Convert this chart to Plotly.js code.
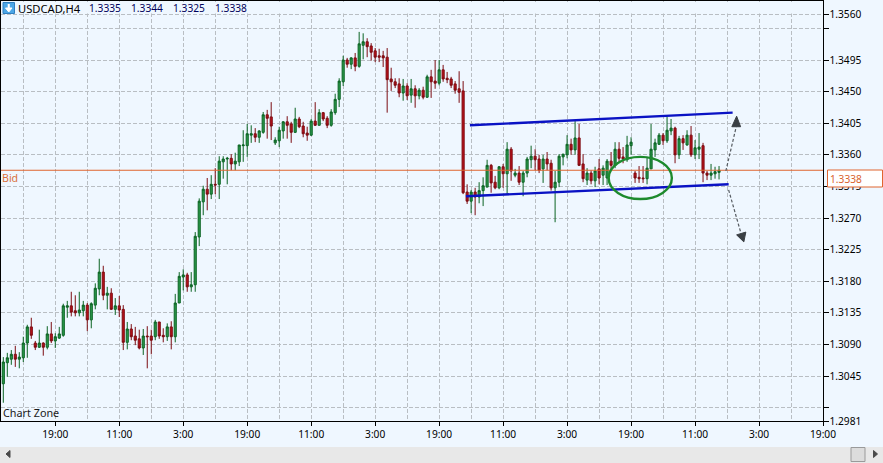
<!DOCTYPE html>
<html><head><meta charset="utf-8">
<script src="https://cdn.plot.ly/plotly-3.0.1.min.js"></script>
<style>html,body{margin:0;padding:0;background:#eff7ff;overflow:hidden}</style>
</head><body><div id="chart" style="width:883px;height:463px"></div>
<script>
const opens = [
1.3034,1.3064,1.3069,1.3076,1.3069,1.3071,1.3092,1.3115,1.3092,1.3086,
1.3092,1.3086,1.3105,1.3095,1.3099,1.3103,1.3143,1.3145,1.3138,1.3135,
1.3138,1.3146,1.3125,1.3146,1.3169,1.3193,1.3160,1.3163,1.3140,1.3145,
1.3140,1.3093,1.3112,1.3102,1.3098,1.3085,1.3102,1.3102,1.3101,1.3122,
1.3103,1.3101,1.3115,1.3101,1.3149,1.3186,1.3189,1.3172,1.3175,1.3243,
1.3293,1.3311,1.3304,1.3318,1.3318,1.3350,1.3354,1.3355,1.3347,1.3350,
1.3373,1.3373,1.3388,1.3390,1.3385,1.3392,1.3417,1.3414,1.3377,1.3380,
1.3394,1.3407,1.3404,1.3392,1.3411,1.3401,1.3391,1.3388,1.3408,1.3402,
1.3420,1.3412,1.3402,1.3420,1.3439,1.3464,1.3495,1.3489,1.3498,1.3486,
1.3516,1.3521,1.3515,1.3508,1.3501,1.3501,1.3499,1.3468,1.3464,1.3461,
1.3448,1.3458,1.3445,1.3454,1.3444,1.3452,1.3442,1.3471,1.3465,1.3462,
1.3481,1.3469,1.3468,1.3461,1.3454,1.3451,1.3307,1.3294,1.3307,1.3300,
1.3309,1.3314,1.3345,1.3321,1.3313,1.3343,1.3333,1.3368,1.3331,1.3334,
1.3321,1.3334,1.3353,1.3358,1.3354,1.3340,1.3354,1.3348,1.3313,1.3321,
1.3357,1.3360,1.3375,1.3367,1.3384,1.3347,1.3324,1.3334,1.3323,1.3340,
1.3331,1.3327,1.3351,1.3345,1.3368,1.3357,1.3353,1.3373,1.3334,1.3328,
1.3327,1.3326,1.3340,1.3367,1.3375,1.3388,1.3380,1.3394,1.3398,1.3360,
1.3383,1.3374,1.3388,1.3360,1.3368,1.3373,1.3334,1.3331,1.3333,1.3335];
const highs = [
1.3072,1.3078,1.3082,1.3088,1.3079,1.3101,1.3118,1.3128,1.3095,1.3111,
1.3093,1.3116,1.3122,1.3106,1.3115,1.3148,1.3152,1.3165,1.3160,1.3165,
1.3152,1.3149,1.3150,1.3177,1.3212,1.3202,1.3172,1.3170,1.3156,1.3159,
1.3146,1.3122,1.3119,1.3115,1.3111,1.3112,1.3116,1.3111,1.3125,1.3122,
1.3113,1.3120,1.3123,1.3162,1.3193,1.3197,1.3192,1.3193,1.3250,1.3298,
1.3316,1.3327,1.3331,1.3341,1.3358,1.3358,1.3357,1.3361,1.3363,1.3374,
1.3395,1.3404,1.3402,1.3398,1.3395,1.3421,1.3424,1.3435,1.3385,1.3400,
1.3408,1.3415,1.3407,1.3427,1.3414,1.3407,1.3400,1.3411,1.3435,1.3425,
1.3421,1.3415,1.3425,1.3447,1.3469,1.3501,1.3498,1.3499,1.3505,1.3535,
1.3533,1.3526,1.3519,1.3512,1.3511,1.3508,1.3512,1.3484,1.3469,1.3469,
1.3468,1.3462,1.3468,1.3459,1.3455,1.3457,1.3474,1.3481,1.3495,1.3495,
1.3488,1.3478,1.3471,1.3465,1.3479,1.3465,1.3318,1.3310,1.3313,1.3321,
1.3328,1.3353,1.3347,1.3330,1.3344,1.3347,1.3378,1.3371,1.3340,1.3344,
1.3337,1.3357,1.3373,1.3368,1.3360,1.3360,1.3364,1.3353,1.3337,1.3361,
1.3361,1.3388,1.3383,1.3408,1.3404,1.3361,1.3341,1.3338,1.3343,1.3354,
1.3345,1.3354,1.3364,1.3378,1.3378,1.3371,1.3387,1.3385,1.3337,1.3344,
1.3344,1.3357,1.3404,1.3383,1.3391,1.3391,1.3414,1.3411,1.3400,1.3387,
1.3388,1.3395,1.3401,1.3381,1.3391,1.3377,1.3337,1.3347,1.3343,1.3344];
const lows = [
1.3007,1.3044,1.3061,1.3058,1.3056,1.3065,1.3071,1.3098,1.3082,1.3085,
1.3074,1.3083,1.3092,1.3085,1.3098,1.3101,1.3128,1.3130,1.3130,1.3130,
1.3130,1.3109,1.3113,1.3140,1.3160,1.3153,1.3140,1.3139,1.3132,1.3129,
1.3082,1.3083,1.3096,1.3089,1.3083,1.3075,1.3056,1.3076,1.3096,1.3098,
1.3093,1.3095,1.3083,1.3093,1.3149,1.3167,1.3165,1.3165,1.3165,1.3230,
1.3274,1.3281,1.3297,1.3304,1.3297,1.3326,1.3318,1.3338,1.3338,1.3344,
1.3350,1.3357,1.3377,1.3378,1.3377,1.3390,1.3383,1.3381,1.3374,1.3371,
1.3383,1.3383,1.3377,1.3391,1.3398,1.3385,1.3380,1.3387,1.3401,1.3402,
1.3408,1.3398,1.3400,1.3417,1.3428,1.3458,1.3484,1.3482,1.3479,1.3484,
1.3496,1.3499,1.3494,1.3492,1.3492,1.3485,1.3420,1.3451,1.3455,1.3442,
1.3437,1.3438,1.3434,1.3427,1.3439,1.3439,1.3441,1.3441,1.3454,1.3459,
1.3464,1.3462,1.3455,1.3447,1.3434,1.3304,1.3290,1.3277,1.3274,1.3291,
1.3287,1.3314,1.3306,1.3311,1.3311,1.3313,1.3304,1.3323,1.3328,1.3317,
1.3301,1.3328,1.3341,1.3338,1.3334,1.3320,1.3338,1.3309,1.3264,1.3314,
1.3345,1.3355,1.3360,1.3360,1.3344,1.3321,1.3317,1.3318,1.3314,1.3318,
1.3317,1.3317,1.3338,1.3341,1.3350,1.3348,1.3350,1.3360,1.3320,1.3320,
1.3320,1.3318,1.3340,1.3357,1.3374,1.3374,1.3377,1.3388,1.3348,1.3354,
1.3367,1.3373,1.3357,1.3354,1.3354,1.3321,1.3324,1.3324,1.3326,1.3325];
const closes = [
1.3065,1.3071,1.3076,1.3069,1.3072,1.3092,1.3115,1.3103,1.3086,1.3092,
1.3086,1.3105,1.3095,1.3101,1.3105,1.3145,1.3145,1.3136,1.3135,1.3139,
1.3146,1.3125,1.3148,1.3170,1.3193,1.3160,1.3163,1.3140,1.3145,1.3139,
1.3093,1.3112,1.3101,1.3096,1.3085,1.3102,1.3101,1.3096,1.3122,1.3102,
1.3101,1.3115,1.3101,1.3149,1.3187,1.3189,1.3172,1.3175,1.3244,1.3294,
1.3311,1.3304,1.3318,1.3317,1.3351,1.3354,1.3355,1.3347,1.3351,1.3374,
1.3374,1.3390,1.3390,1.3385,1.3394,1.3417,1.3412,1.3401,1.3381,1.3395,
1.3407,1.3402,1.3392,1.3411,1.3400,1.3390,1.3388,1.3408,1.3402,1.3420,
1.3411,1.3402,1.3421,1.3439,1.3465,1.3495,1.3489,1.3498,1.3486,1.3518,
1.3521,1.3514,1.3506,1.3499,1.3499,1.3498,1.3467,1.3464,1.3459,1.3448,
1.3458,1.3444,1.3454,1.3444,1.3452,1.3442,1.3471,1.3464,1.3462,1.3481,
1.3468,1.3467,1.3459,1.3452,1.3449,1.3306,1.3294,1.3307,1.3300,1.3309,
1.3316,1.3345,1.3320,1.3313,1.3343,1.3333,1.3368,1.3337,1.3334,1.3321,
1.3334,1.3354,1.3358,1.3353,1.3338,1.3354,1.3347,1.3313,1.3321,1.3358,
1.3361,1.3375,1.3367,1.3384,1.3345,1.3326,1.3334,1.3323,1.3337,1.3327,
1.3341,1.3351,1.3345,1.3368,1.3355,1.3354,1.3374,1.3378,1.3327,1.3326,
1.3326,1.3341,1.3368,1.3377,1.3388,1.3380,1.3395,1.3398,1.3360,1.3383,
1.3377,1.3388,1.3360,1.3370,1.3371,1.3334,1.3331,1.3334,1.3336,1.3338];

const priceTicks = [1.3560,1.3540,1.3495,1.3450,1.3405,1.3360,1.3315,1.3270,1.3225,1.3180,1.3135,1.3090,1.3045,1.3000,1.2981];
const priceLabels = ['1.3560','','1.3495','1.3450','1.3405','1.3360','1.3315','1.3270','1.3225','1.3180','1.3135','1.3090','1.3045','','1.2981'];
const timeTicks = [13,29,45,61,77,93,109,125,141,157,173,189,205];
const timeLabels = ['19:00','11:00','3:00','19:00','11:00','3:00','19:00','11:00','3:00','19:00','11:00','3:00','19:00'];
const midGrid = [5,21,37,53,69,85,101,117,133,149,165,181,197];
const bidPrice = 1.3338;
const upperChannel = {x:[116.7,182.4], y:[1.3402,1.3420]};
const lowerChannel = {x:[115.7,181.4], y:[1.3301,1.3318]};
const ohlcHeader = ['1.3335','1.3344','1.3325','1.3338'];

const bars = opens.map((_,i)=>i);
const FONT = '"Noto Sans", "DejaVu Sans", sans-serif';
const BG = '#eff7ff', GRID = '#b9bec3', BID = '#e0652f';
const px = v => (v-1)/822, py = v => 1-(v-1)/420;

const trace = {type:'candlestick', x:bars, open:opens, high:highs, low:lows, close:closes,
  increasing:{line:{color:'#0b6323',width:1}, fillcolor:'#2b9a4b'},
  decreasing:{line:{color:'#7c0c12',width:1}, fillcolor:'#bb0f18'},
  whiskerwidth:0, hoverinfo:'skip', showlegend:false};

const line = (x0,y0,x1,y1,color,width,dash) => ({type:'line',xref:'x',yref:'y',x0,y0,x1,y1,line:{color,width,dash:dash||'solid'}});
const poly = (d,fill,color) => ({type:'path',xref:'paper',yref:'paper',path:d,fillcolor:fill,line:{color:color||fill,width:1}});
const rectPx = (x0,y0,x1,y1,fill,color) => ({type:'rect',xref:'paper',yref:'paper',x0:px(x0),x1:px(x1),y0:py(y0),y1:py(y1),fillcolor:fill,line:{color:color||fill,width:color?1:0}});
const tri = (pts,fill) => poly('M'+pts.map(p=>px(p[0])+','+py(p[1])).join(' L')+' Z',fill);
const dataTri = (pts,fill) => ({type:'path',xref:'x',yref:'y',path:'M'+pts.map(p=>p[0]+','+p[1]).join(' L')+' Z',fillcolor:fill,line:{color:fill,width:1}});

const shapes = [
  // the grid starts at the 1.3560 line: blank band above it
  rectPx(2,2,822.3,13.6,BG),
  line(bars[0]-1,bidPrice,205,bidPrice,BID,1),
  line(upperChannel.x[0],upperChannel.y[0],upperChannel.x[1],upperChannel.y[1],'#0a12c4',2.4),
  line(lowerChannel.x[0],lowerChannel.y[0],lowerChannel.x[1],lowerChannel.y[1],'#0a12c4',2.4),
  {type:'circle',xref:'x',yref:'y',x0:151.4,x1:167.2,y0:1.3297,y1:1.3357,line:{color:'#1d8a2d',width:2.4}},
  line(180.7,1.3337,183.3,1.3400,'#555a60',1.2,'3px,2px'),
  dataTri([[183.4,1.3415],[182.2,1.3400],[184.4,1.3400]],'#3a3f44'),
  line(181.4,1.3310,184.5,1.3248,'#555a60',1.2,'3px,2px'),
  dataTri([[185.2,1.3236],[183.4,1.3246],[185.7,1.3250]],'#3a3f44'),
  // price box
  rectPx(827.5,170,882.5,187,'#ffffff',BID),
  // scrollbar
  rectPx(0,447,883,463,'#e8e8e8'),
  rectPx(851,447.5,865,461.5,'#dcdcdc','#9a9a9a'),
  tri([[6,454],[10,450.5],[10,457.5]],'#4a4a4a'),
  tri([[877.5,454],[873.5,450.5],[873.5,457.5]],'#4a4a4a'),
  // header icon
  rectPx(3,2.5,14.5,13.5,'#4ca6e6','#2f7fc0'),
  tri([[5.5,8],[12,8],[8.75,12]],'#ffffff'),
  rectPx(7.7,4,9.8,8.2,'#ffffff')
];

const label = (text,x,y,color,size,anchor) => ({text,xref:'paper',yref:'paper',x:px(x),y:py(y),xanchor:anchor||'left',yanchor:'middle',showarrow:false,font:{family:FONT,size,color},borderpad:0});
const annotations = [
  label('USDCAD,H4',16.5,8,'#000000',11.2),
  label(ohlcHeader[0],87.5,8,'#00005a',10.2),
  label(ohlcHeader[1],129.5,8,'#00005a',10.2),
  label(ohlcHeader[2],171.5,8,'#00005a',10.2),
  label(ohlcHeader[3],213.5,8,'#00005a',10.2),
  label('Bid',1,178,'#d9703a',10.6),
  label('Chart Zone',2,412,'#1a1a1a',10.8),
  label(bidPrice.toFixed(4),828.5,179,'#d9622c',10.2)
];

const layout = {
  width:883,height:463,margin:{l:1,r:60,t:1,b:42,pad:0},
  paper_bgcolor:BG,plot_bgcolor:BG,showlegend:false,hovermode:false,boxgap:0.25,
  xaxis:{type:'linear',range:[-0.575,205],rangeslider:{visible:false},tickmode:'array',tickvals:timeTicks,ticktext:timeLabels,
    showgrid:true,gridcolor:GRID,griddash:'4px,2px',gridwidth:1,zeroline:false,
    showline:true,linecolor:'#000',linewidth:1.4,mirror:true,ticks:'outside',ticklen:4,tickcolor:'#000',tickwidth:1,
    tickfont:{family:FONT,size:10.2,color:'#000'},tickangle:0,ticklabelstandoff:-1,
    minor:{tickmode:'array',tickvals:midGrid,showgrid:true,gridcolor:GRID,griddash:'4px,2px',gridwidth:1,ticks:''}},
  yaxis:{side:'right',range:[1.2981,1.3579],tickmode:'array',tickvals:priceTicks,ticktext:priceLabels,
    showgrid:true,gridcolor:GRID,griddash:'4px,2px',gridwidth:1,zeroline:false,
    showline:true,linecolor:'#000',linewidth:1.4,mirror:true,ticks:'outside',ticklen:5,tickcolor:'#000',tickwidth:1,
    tickfont:{family:FONT,size:10.2,color:'#000'},ticklabelstandoff:-2},
  shapes,annotations
};
Plotly.newPlot('chart',[trace],layout,{displayModeBar:false,staticPlot:true});
</script></body></html>
